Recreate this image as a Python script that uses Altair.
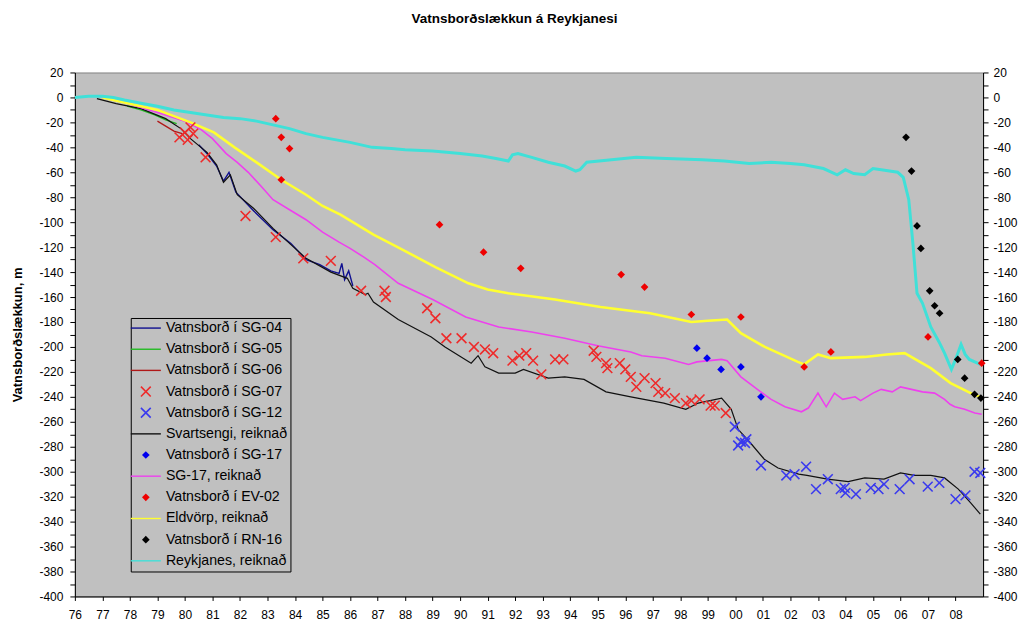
import altair as alt
import pandas as pd

TITLE = "Vatnsborðslækkun á Reykjanesi"
Y_TITLE = "Vatnsborðslækkun, m"

SERIES = [
    "Vatnsborð í SG-04", "Vatnsborð í SG-05", "Vatnsborð í SG-06",
    "Vatnsborð í SG-07", "Vatnsborð í SG-12", "Svartsengi, reiknað",
    "Vatnsborð í SG-17", "SG-17, reiknað", "Vatnsborð í EV-02",
    "Eldvörp, reiknað", "Vatnsborð í RN-16", "Reykjanes, reiknað",
]
COLORS = [
    "#101090", "#22bb22", "#b01818",
    "#ee2a2a", "#3a3aee", "#111111",
    "#0000ee", "#ee40ee", "#ee0000",
    "#ffff30", "#000000", "#40e0d8",
]
X_TICKS = list(range(1976, 2009))
Y_TICKS = list(range(-400, 21, 10))

# ---- line series (year, value) ----
sg04_year = [1980.5, 1980.8, 1981.15, 1981.4, 1981.6, 1981.85, 1982.5, 1983.2, 1983.85,
             1984.4, 1984.9, 1985.3, 1985.6, 1985.7, 1985.8, 1985.95, 1986.1]
sg04_val = [-38, -45, -55, -67, -60, -76, -91, -106, -117,
            -130, -134, -139, -141, -133, -146, -139, -151]

sg05_year = [1977.9, 1978.4, 1978.9, 1979.3, 1979.7]
sg05_val = [-7, -10, -14, -18, -21]

sg06_year = [1979.0, 1979.3, 1979.6, 1979.9]
sg06_val = [-19, -23, -27, -29]

svarts_year = [1976.8, 1977.5, 1978.4, 1979.3, 1979.85, 1980.2, 1980.8, 1981.15, 1981.4,
               1981.65, 1981.9, 1982.5, 1983.2, 1983.85, 1984.4, 1985.3, 1985.9, 1986.1,
               1986.55, 1986.65, 1986.85, 1987.75, 1988.95, 1989.45, 1990.4, 1990.65,
               1990.9, 1991.4, 1992.0, 1992.3, 1993.2, 1993.8, 1994.5, 1995.3, 1996.2,
               1997.4, 1998.2, 1998.65, 1999.5, 1999.85, 2000.1, 2000.55, 2001.05,
               2001.55, 2002.3, 2002.6, 2003.35, 2004.1, 2004.7, 2005.4, 2006.0, 2006.5,
               2007.1, 2007.6, 2008.1, 2008.55, 2008.9]
svarts_val = [-1, -5, -9, -17, -25, -33, -44, -54, -68,
              -62, -78, -89, -105, -118, -129, -140, -145, -153,
              -158, -157, -164, -178, -192, -200, -213, -207,
              -216, -221, -221, -218, -225, -224, -226, -236, -240,
              -245, -250, -245, -241, -250, -266, -277, -290,
              -297, -302, -303, -306, -308, -305, -306, -301, -303,
              -303, -305, -314, -325, -334]

sg17r_year = [1977.0, 1977.8, 1979.0, 1980.0, 1980.6, 1981.0, 1981.5, 1981.9, 1982.3,
              1982.8, 1983.2, 1983.8, 1984.4, 1985.0, 1985.6, 1986.0, 1986.5, 1986.9,
              1987.75, 1989.0, 1990.2, 1991.4, 1992.6, 1993.8, 1995.0, 1996.2, 1996.6,
              1997.45, 1998.3, 1998.6, 1999.5, 1999.7, 2000.2, 2000.8, 2001.3, 2001.8,
              2002.4, 2002.65, 2003.0, 2003.3, 2003.6, 2003.9, 2004.35, 2004.55, 2005.0,
              2005.3, 2005.7, 2006.0, 2006.4, 2006.8, 2007.24, 2007.6, 2007.8, 2007.97,
              2008.33, 2008.7, 2008.95]
sg17r_val = [0, -4, -12, -19, -26, -33, -45, -52, -60,
             -72, -82, -90, -98, -108, -116, -121, -128, -134,
             -149, -162, -176, -184, -188, -193, -199, -204, -207,
             -209, -214, -212, -210, -211, -224, -234, -242, -248,
             -252, -249, -237, -248, -237, -242, -240, -243, -237,
             -234, -236, -232, -234, -236, -237, -242, -246, -248,
             -250, -253, -254]

eldv_year = [1977.0, 1977.8, 1979.0, 1980.2, 1981.05, 1981.8, 1982.6, 1983.5, 1984.4,
             1985.0, 1985.65, 1986.85, 1987.9, 1989.1, 1990.3, 1991.0, 1991.75, 1993.45,
             1995.1, 1996.9, 1998.4, 1999.0, 1999.7, 2000.2, 2001.07, 2002.27, 2002.5,
             2003.0, 2003.47, 2004.7, 2005.5, 2006.15, 2007.1, 2007.82, 2008.55, 2008.9]
eldv_val = [0, -4, -10, -20, -28, -40, -52, -66, -78,
            -87, -94, -110, -122, -136, -149, -154, -157, -162,
            -168, -173, -180, -179, -178, -189, -200, -212, -214,
            -206, -209, -208, -206, -205, -217, -229, -237, -240]

reykj_year = [1976.0, 1976.5, 1977.0, 1977.4, 1977.8, 1978.5, 1979.0, 1979.6, 1980.2,
              1980.8, 1981.4, 1982.0, 1982.6, 1983.2, 1983.8, 1984.4, 1985.0, 1985.5,
              1986.0, 1986.8, 1987.5, 1988.0, 1989.0, 1990.0, 1990.8, 1991.3, 1991.75,
              1991.9, 1992.1, 1992.6, 1993.2, 1993.8, 1994.2, 1994.35, 1994.6, 1995.5,
              1996.4, 1997.5, 1998.8, 1999.6, 2000.5, 2001.3, 2002.0, 2002.5, 2003.2,
              2003.7, 2004.0, 2004.3, 2004.7, 2005.0, 2005.3, 2005.9, 2006.1, 2006.3,
              2006.45, 2006.6, 2006.8, 2007.1, 2007.4, 2007.6, 2007.85, 2008.0, 2008.2,
              2008.35, 2008.5, 2008.9]
reykj_val = [0, 1, 1, 0, -2, -5, -7, -10, -12,
             -14, -16, -17, -19, -22, -25, -29, -32, -34,
             -36, -40, -41, -42, -43, -45, -47, -49, -51,
             -46, -45, -48, -52, -55, -59, -58, -52, -50,
             -48, -49, -50, -51, -53, -52, -53, -54, -57,
             -62, -58, -61, -62, -57, -58, -60, -64, -82,
             -117, -157, -165, -184, -196, -205, -218, -210, -198,
             -206, -210, -214]

# ---- point series (year, value) ----
sg07_year = [1979.8, 1980.0, 1980.2, 1980.1, 1980.3, 1980.75, 1982.2, 1983.3, 1984.3,
             1985.3, 1986.4, 1987.25, 1987.3, 1988.8, 1989.1, 1989.5, 1990.05, 1990.5,
             1990.9, 1991.2, 1991.9, 1992.15, 1992.4, 1992.65, 1992.95, 1993.45, 1993.75,
             1994.85, 1994.95, 1995.3, 1995.35, 1995.8, 1996.0, 1996.2, 1996.4, 1996.7,
             1997.1, 1997.2, 1997.45, 1997.8, 1998.2, 1998.4, 1998.7, 1999.1, 1999.25,
             1999.65]
sg07_val = [-32, -28, -24, -34, -29, -48, -95, -112, -129,
            -131, -155, -155, -160, -169, -177, -193, -193, -200,
            -202, -205, -211, -207, -205, -211, -222, -210, -210,
            -203, -208, -213, -217, -213, -218, -224, -232, -225,
            -229, -236, -237, -241, -245, -243, -242, -247, -247,
            -253]

sg12_year = [1999.98, 2000.1, 2000.2, 2000.35, 2000.4, 2000.93, 2001.85, 2002.15, 2002.57,
             2002.93, 2003.36, 2003.83, 2003.97, 2004.0, 2004.38, 2004.92, 2005.2, 2005.4,
             2005.97, 2006.33, 2006.99, 2007.41, 2008.0, 2008.36, 2008.69, 2008.9]
sg12_val = [-264, -279, -276, -277, -274, -295, -303, -302, -296,
            -314, -306, -314, -313, -317, -318, -313, -314, -310,
            -314, -306, -312, -309, -322, -319, -300, -301]

sg17_year = [1998.6, 1998.97, 1999.48, 2000.2, 2000.93]
sg17_val = [-201, -209, -218, -216, -240]

ev02_year = [1983.3, 1983.5, 1983.8, 1983.5, 1989.25, 1990.85, 1992.2, 1995.85, 1996.7,
             1998.4, 2000.2, 2002.5, 2003.47, 2007.0, 2008.95]
ev02_val = [-17, -32, -41, -66, -102, -124, -137, -142, -152,
            -174, -176, -216, -204, -192, -213]

rn16_year = [2006.2, 2006.4, 2006.6, 2006.74, 2007.06, 2007.24, 2007.42, 2008.08, 2008.33,
             2008.69, 2008.92]
rn16_val = [-32, -59, -103, -121, -155, -167, -173, -210, -225, -238, -241]

FONT = "Liberation Sans"

# symbol paths (unit box, scaled by the mark size)
LINE_PATH = "M-2.15,-0.1H2.15V0.1H-2.15Z"
X_PATH = ("M-0.62,-0.78L0.78,0.62L0.62,0.78L-0.78,-0.62Z"
          "M-0.62,0.78L-0.78,0.62L0.62,-0.78L0.78,-0.62Z")
DIAMOND_PATH = "M0,-0.55L0.55,0L0,0.55L-0.55,0Z"
SHAPES = [LINE_PATH, LINE_PATH, LINE_PATH, X_PATH, X_PATH, LINE_PATH,
          DIAMOND_PATH, LINE_PATH, DIAMOND_PATH, LINE_PATH, DIAMOND_PATH, LINE_PATH]

x_scale = alt.Scale(domain=[1976, 2009], nice=False, zero=False)
y_scale = alt.Scale(domain=[-400, 20], nice=False, zero=False)

x_axis = alt.Axis(values=X_TICKS, labelExpr="substring(toString(datum.value), 2, 4)",
                  grid=False, tickSize=4, labelPadding=9, labelFont=FONT, labelFontSize=12,
                  labelColor="black", domainColor="black", tickColor="black", title=None,
                  labelFlush=False, labelOverlap=False)

y_label_expr = "datum.value % 20 == 0 ? toString(datum.value) : ''"
y_axis_left = alt.Axis(values=Y_TICKS, labelExpr=y_label_expr, grid=False, tickSize=5,
                       labelPadding=7, labelFont=FONT, labelFontSize=12, labelColor="black",
                       domainColor="black", tickColor="black", title=Y_TITLE,
                       titleFont=FONT, titleFontSize=13, titleFontWeight="bold",
                       titleColor="black", titlePadding=14, labelOverlap=False)
y_axis_right = alt.Axis(values=Y_TICKS, labelExpr=y_label_expr, grid=False, tickSize=5,
                        labelPadding=5, labelFont=FONT, labelFontSize=12, labelColor="black",
                        domainColor="black", tickColor="black", title=None, orient="right",
                        labelOverlap=False)

line_defs = [
    ("Vatnsborð í SG-04", sg04_year, sg04_val, 1.4),
    ("Vatnsborð í SG-05", sg05_year, sg05_val, 1.4),
    ("Vatnsborð í SG-06", sg06_year, sg06_val, 1.3),
    ("Svartsengi, reiknað", svarts_year, svarts_val, 1.2),
    ("SG-17, reiknað", sg17r_year, sg17r_val, 1.6),
    ("Eldvörp, reiknað", eldv_year, eldv_val, 2.6),
    ("Reykjanes, reiknað", reykj_year, reykj_val, 3.0),
]

line_layers = []
for name, yrs, vals, w in line_defs:
    df = pd.DataFrame({"year": yrs, "value": vals})
    c = COLORS[SERIES.index(name)]
    line_layers.append(
        alt.Chart(df).mark_line(color=c, strokeWidth=w, clip=True).encode(
            x=alt.X("year:Q", scale=x_scale, axis=x_axis),
            y=alt.Y("value:Q", scale=y_scale, axis=y_axis_left),
        )
    )
lines = alt.layer(*line_layers)

point_defs = [
    ("Vatnsborð í SG-07", sg07_year, sg07_val),
    ("Vatnsborð í SG-12", sg12_year, sg12_val),
    ("Vatnsborð í SG-17", sg17_year, sg17_val),
    ("Vatnsborð í EV-02", ev02_year, ev02_val),
    ("Vatnsborð í RN-16", rn16_year, rn16_val),
]
rows = []
for name, yrs, vals in point_defs:
    for yv, vv in zip(yrs, vals):
        rows.append({"series": name, "year": yv, "value": vv})
pts_df = pd.DataFrame(rows)

legend = alt.Legend(
    orient="none", legendX=56, legendY=246, title=None,
    fillColor="#c0c0c0", strokeColor="black", padding=3,
    symbolSize=196, symbolStrokeWidth=0, symbolOpacity=1, symbolOffset=5,
    labelOffset=13, labelFont=FONT, labelFontSize=14.2, labelColor="black",
    rowPadding=6.2, labelLimit=0,
)

points = alt.Chart(pts_df).mark_point(filled=True, size=196, opacity=1, strokeWidth=0).encode(
    x=alt.X("year:Q", scale=x_scale, axis=x_axis),
    y=alt.Y("value:Q", scale=y_scale, axis=y_axis_right),
    color=alt.Color("series:N", scale=alt.Scale(domain=SERIES, range=COLORS), legend=legend),
    shape=alt.Shape("series:N", scale=alt.Scale(domain=SERIES, range=SHAPES), legend=legend),
)

chart = alt.layer(lines, points).resolve_scale(y="independent").properties(
    width=910,
    height=525,
    padding={"left": 67, "top": 64, "right": 35, "bottom": 29},
    autosize=alt.AutoSizeParams(type="none"),
    background="white",
    title=alt.TitleParams(TITLE, font=FONT, fontSize=13.5, fontWeight="bold", color="black",
                          offset=41, frame="bounds", anchor="middle"),
).configure_view(fill="#c0c0c0", stroke="#808080", strokeWidth=1)

chart.save("out.html", embed_options={"renderer": "svg", "actions": False})
